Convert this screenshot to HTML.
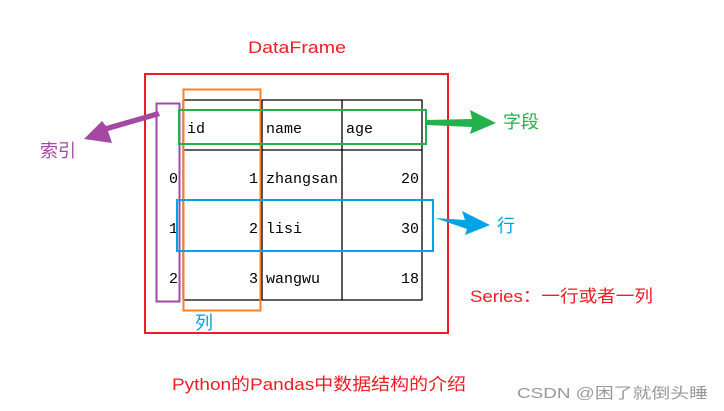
<!DOCTYPE html>
<html><head><meta charset="utf-8"><style>
html,body{margin:0;padding:0;background:#fff;width:724px;height:411px;overflow:hidden}
svg text{font-family:"Liberation Sans","Noto Sans CJK SC",sans-serif}
.m{font-family:"Liberation Mono","Noto Sans CJK SC",monospace;font-size:15px;fill:#000}
</style></head><body>
<svg width="724" height="411" xmlns="http://www.w3.org/2000/svg">
<text x="248" y="53" font-size="17" fill="#ee1c25" textLength="98" lengthAdjust="spacingAndGlyphs">DataFrame</text>
<rect x="145" y="74" width="303" height="259" fill="none" stroke="#ee1c25" stroke-width="2"/>
<g stroke="#000" stroke-width="1.3" fill="none">
<line x1="182.5" y1="100" x2="422.5" y2="100"/>
<line x1="182.5" y1="150" x2="422.5" y2="150"/>
<line x1="182.5" y1="300" x2="422.5" y2="300"/>
<line x1="183" y1="100" x2="183" y2="300"/>
<line x1="262" y1="100" x2="262" y2="300"/>
<line x1="342" y1="100" x2="342" y2="300"/>
<line x1="422" y1="100" x2="422" y2="300"/>
</g>
<text class="m" x="187" y="133">id</text>
<text class="m" x="266" y="133">name</text>
<text class="m" x="346" y="133">age</text>
<text class="m" x="178" y="183" text-anchor="end">0</text>
<text class="m" x="178" y="233" text-anchor="end">1</text>
<text class="m" x="178" y="283" text-anchor="end">2</text>
<text class="m" x="258" y="183" text-anchor="end">1</text>
<text class="m" x="258" y="233" text-anchor="end">2</text>
<text class="m" x="258" y="283" text-anchor="end">3</text>
<text class="m" x="266" y="183">zhangsan</text>
<text class="m" x="266" y="233">lisi</text>
<text class="m" x="266" y="283">wangwu</text>
<text class="m" x="419" y="183" text-anchor="end">20</text>
<text class="m" x="419" y="233" text-anchor="end">30</text>
<text class="m" x="419" y="283" text-anchor="end">18</text>
<rect x="156.5" y="103.5" width="23" height="198" fill="none" stroke="#a349a4" stroke-width="2"/>
<rect x="183.5" y="89.5" width="77" height="221" fill="none" stroke="#ff7f27" stroke-width="2"/>
<rect x="179" y="110" width="247" height="34" fill="none" stroke="#22b14c" stroke-width="2"/>
<rect x="177" y="200" width="256" height="51" fill="none" stroke="#00a2e8" stroke-width="2"/>
<polygon points="158,111 160,116 108,131 112,143 84,139 102,121 106,126" fill="#a349a4"/>
<polygon points="426,120 472,119 470,110 496,123 470,134 472,127 426,125" fill="#22b14c"/>
<polygon points="435,218 465,220 462,211 490,225 465,235 467,229" fill="#00a2e8"/>
<text x="40" y="157" font-size="18" fill="#a349a4">索引</text>
<text x="503" y="128" font-size="18" fill="#22b14c">字段</text>
<text x="497" y="232" font-size="18" fill="#00a2e8">行</text>
<text x="195" y="329" font-size="18" fill="#00a2e8">列</text>
<text x="470" y="302" font-size="17" fill="#ee1c25" textLength="183" lengthAdjust="spacingAndGlyphs">Series：一行或者一列</text>
<text x="172" y="390" font-size="17" fill="#ee1c25" textLength="294" lengthAdjust="spacingAndGlyphs">Python的Pandas中数据结构的介绍</text>
<text x="517" y="398" font-size="15" fill="#999" textLength="191" lengthAdjust="spacingAndGlyphs">CSDN @困了就倒头睡</text>
</svg>
</body></html>
